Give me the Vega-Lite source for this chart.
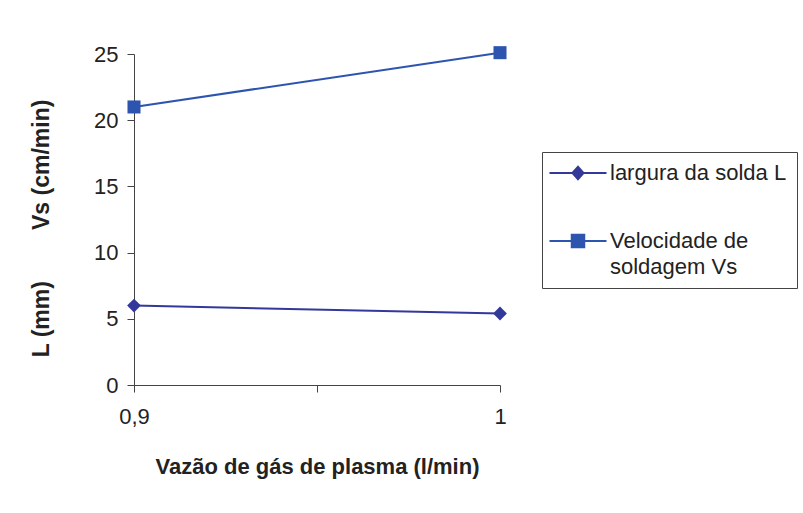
{
  "$schema": "https://vega.github.io/schema/vega-lite/v6.json",
  "width": 366,
  "height": 331,
  "autosize": "none",
  "padding": {"left": 134, "top": 54, "right": 303, "bottom": 128},
  "background": "white",
  "config": {
    "view": {"stroke": null},
    "font": "Liberation Sans"
  },
  "data": {
    "values": [
      {"vazao": 0.9, "serie": "largura da solda L", "valor": 6.0},
      {"vazao": 1.0, "serie": "largura da solda L", "valor": 5.4},
      {"vazao": 0.9, "serie": "Velocidade de soldagem Vs", "valor": 21.0},
      {"vazao": 1.0, "serie": "Velocidade de soldagem Vs", "valor": 25.1}
    ]
  },
  "encoding": {
    "x": {
      "field": "vazao", "type": "quantitative",
      "scale": {"domain": [0.9, 1.0], "nice": false, "zero": false},
      "axis": {
        "values": [0.9, 0.95, 1.0],
        "labelExpr": "datum.value == 0.95 ? '' : replace(format(datum.value, '.1~f'), '.', ',')",
        "title": "Vazão de gás de plasma (l/min)",
        "titleFont": "Liberation Sans", "titleFontSize": 22, "titleFontWeight": "bold", "titleColor": "#222",
        "titlePadding": 29,
        "labelFont": "Liberation Sans", "labelFontSize": 22, "labelColor": "#222",
        "labelPadding": 14, "labelFlush": false,
        "tickSize": 7, "tickColor": "#444", "domainColor": "#444",
        "grid": false
      }
    },
    "y": {
      "field": "valor", "type": "quantitative",
      "scale": {"domain": [0, 25], "nice": false},
      "axis": {
        "values": [0, 5, 10, 15, 20, 25],
        "title": "L (mm)\u00a0\u00a0\u00a0\u00a0\u00a0\u00a0\u00a0\u00a0Vs (cm/min)",
        "titleFont": "Liberation Sans", "titleFontSize": 23, "titleFontWeight": "bold", "titleColor": "#222",
        "titleX": -86, "titleY": 174, "titleAngle": 270, "titleBaseline": "alphabetic", "titleAlign": "center",
        "labelFont": "Liberation Sans", "labelFontSize": 22, "labelColor": "#222",
        "labelPadding": 9,
        "tickSize": 7, "tickColor": "#444", "domainColor": "#444",
        "grid": false
      }
    },
    "color": {
      "field": "serie", "type": "nominal",
      "scale": {"domain": ["largura da solda L", "Velocidade de soldagem Vs"], "range": ["#33399a", "#2d55b0"]},
      "legend": {
        "title": null,
        "orient": "none", "legendX": 408, "legendY": 98,
        "direction": "vertical",
        "fillColor": "white", "strokeColor": "#444", "padding": 10,
        "labelFont": "Liberation Sans", "labelFontSize": 22, "labelColor": "#222",
        "labelExpr": "datum.label == 'Velocidade de soldagem Vs' ? ['Velocidade de', 'soldagem Vs'] : datum.label",
        "labelLimit": 300,
        "symbolSize": 100, "symbolOffset": 15, "labelOffset": 21,
        "symbolStrokeWidth": 2,
        "rowPadding": 46,
        "encode": {
          "symbols": {
            "update": {
              "shape": {"signal": "datum.value == 'largura da solda L' ? 'M-5.7,0H5.7M-1.1,0L0,-1.25L1.1,0L0,1.25Z' : 'M-5.7,0H5.7M-1.25,-1.25H1.25V1.25H-1.25Z'"},
              "strokeWidth": {"value": 2},
              "fillOpacity": {"value": 1}
            }
          },
          "labels": {
            "update": {
              "lineHeight": {"value": 26}
            }
          }
        }
      }
    }
  },
  "layer": [
    {"mark": {"type": "line", "strokeWidth": 2}},
    {
      "transform": [{"filter": "datum.serie == 'largura da solda L'"}],
      "mark": {"type": "point", "filled": true, "opacity": 1, "shape": "diamond", "size": 190}
    },
    {
      "transform": [{"filter": "datum.serie == 'Velocidade de soldagem Vs'"}],
      "mark": {"type": "point", "filled": true, "opacity": 1, "shape": "square", "size": 170}
    }
  ]
}
